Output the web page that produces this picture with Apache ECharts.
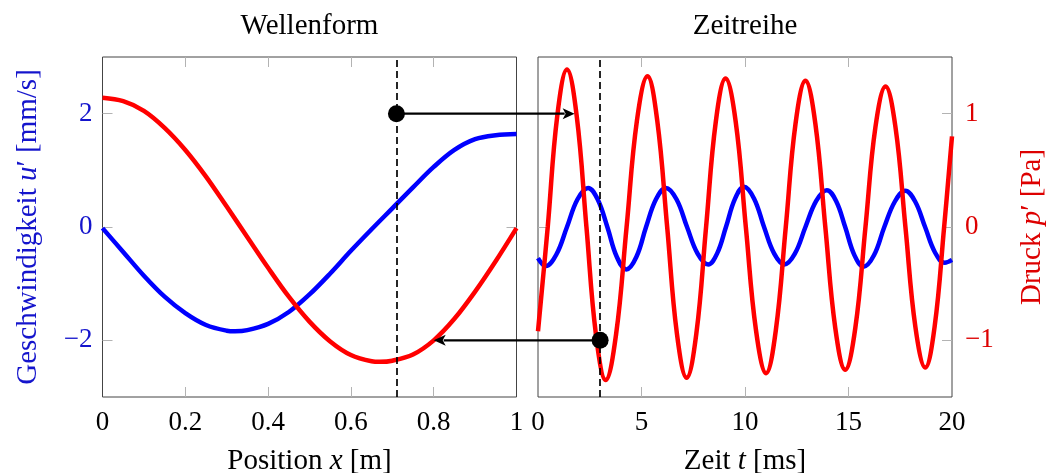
<!DOCTYPE html>
<html>
<head>
<meta charset="utf-8">
<title>Wellenform und Zeitreihe</title>
<script src="https://cdn.jsdelivr.net/npm/echarts@6/dist/echarts.min.js"></script>
<style>
  html, body { margin: 0; padding: 0; background: #fff; }
  #main { width: 1047px; height: 473px; }
</style>
</head>
<body>
<div id="main"></div>
<script>
// Wellenform (links) -- Position x [m]
const posX   = [0, 0.05, 0.1, 0.15, 0.2, 0.25, 0.3, 0.32, 0.35, 0.4, 0.45, 0.5, 0.55, 0.6, 0.65, 0.7, 0.75, 0.8, 0.85, 0.9, 0.95, 1];
const uWelle = [-0.02, -0.44, -0.86, -1.23, -1.52, -1.73, -1.83, -1.84, -1.82, -1.71, -1.50, -1.19, -0.82, -0.42, -0.04, 0.33, 0.70, 1.06, 1.36, 1.55, 1.62, 1.64];
const posXp  = [0, 0.05, 0.1, 0.15, 0.2, 0.25, 0.3, 0.35, 0.4, 0.45, 0.5, 0.55, 0.6, 0.65, 0.67, 0.7, 0.75, 0.8, 0.85, 0.9, 0.95, 1];
const pWelle = [2.28, 2.22, 2.05, 1.75, 1.36, 0.89, 0.36, -0.18, -0.72, -1.23, -1.67, -2.02, -2.26, -2.37, -2.38, -2.36, -2.25, -2.00, -1.62, -1.14, -0.60, -0.02];

// Zeitreihe (rechts) -- Zeit t [ms]
const tU    = [0, 0.37, 0.88, 1.40, 1.91, 2.42, 2.88, 3.35, 3.81, 4.27, 4.75, 5.22, 5.70, 6.18, 6.69, 7.20, 7.71, 8.22, 8.65, 9.08, 9.52, 9.95,
               10.44, 10.92, 11.41, 11.90, 12.41, 12.92, 13.44, 13.95, 14.40, 14.84, 15.29, 15.73, 16.23, 16.73, 17.24, 17.74, 18.22, 18.70, 19.18, 19.65, 20];
const uZeit = [-0.55, -0.69, -0.49, 0, 0.49, 0.69, 0.49, 0, -0.53, -0.75, -0.53, 0, 0.49, 0.69, 0.49, 0, -0.47, -0.66, -0.47, 0, 0.50, 0.71,
               0.50, 0, -0.47, -0.66, -0.47, 0, 0.46, 0.65, 0.46, 0, -0.50, -0.70, -0.50, 0, 0.45, 0.64, 0.45, 0, -0.45, -0.63, -0.58];
const tP    = [0, 0.47, 0.93, 1.40, 1.87, 2.34, 2.80, 3.27, 3.77, 4.28, 4.78, 5.29, 5.76, 6.24, 6.71, 7.18, 7.65, 8.12, 8.59, 9.06, 9.55, 10.04,
               10.53, 11.02, 11.49, 11.97, 12.44, 12.92, 13.40, 13.88, 14.36, 14.84, 15.33, 15.82, 16.30, 16.79, 17.27, 17.75, 18.23, 18.71, 19.16, 19.62, 20];
const pZeit = [-0.92, 0, 0.98, 1.39, 0.98, 0, -0.95, -1.35, -0.95, 0, 0.94, 1.33, 0.94, 0, -0.94, -1.33, -0.94, 0, 0.93, 1.31, 0.93, 0,
               -0.91, -1.29, -0.91, 0, 0.91, 1.29, 0.91, 0, -0.89, -1.26, -0.89, 0, 0.88, 1.24, 0.88, 0, -0.88, -1.24, -0.88, 0, 0.80];

// Achsenteilung
const xTicksPos  = [0, 0.2, 0.4, 0.6, 0.8, 1];
const xTicksZeit = [0, 5, 10, 15, 20];
const yTicksU    = [-2, 0, 2];
const yTicksP    = [-1, 0, 1];

// Markierungen (Datenkoordinaten)
const xMarke = 0.71;          // Position der Zeitreihe
const tMarke = 3;             // Zeitpunkt der Wellenform
const punktOben  = [0.71, 2]; // links, u-Achse
const pfeilOben  = [1.77, 1]; // rechts, p-Achse
const punktUnten = [3, -1];   // rechts, p-Achse
const pfeilUnten = [0.8, -2]; // links, u-Achse

const FONT = 'Liberation Serif';
const FS = 27;      // Zahlen an den Achsen
const FS_NAME = 29; // Titel und Achsenbeschriftung
const BLAU = '#0000ff', ROT = '#ff0000';
const TXT_BLAU = '#1414cc', TXT_ROT = '#dd0000';

function fmt(v) { return v < 0 ? '\u2212' + Math.abs(v) : String(v); }
function paare(xs, ys) { return xs.map((x, i) => [x, ys[i]]); }
function nameStyle(color) {
  return { color: color, fontFamily: FONT, fontSize: FS_NAME,
    rich: { i: { fontStyle: 'italic', fontFamily: FONT, fontSize: FS_NAME, color: color } } };
}
// Striche nach innen, ohne die an den Ecken (liegen auf dem Rahmen)
function ticks(vals) {
  return { show: true, inside: true, length: 10, customValues: vals.slice(1, -1),
    lineStyle: { color: '#b3b3b3', width: 1 } };
}
const keineLinie = { show: false, onZero: false };

const gridL = { left: 102.5, top: 57, width: 414, height: 340 };
const gridR = { left: 538, top: 57, width: 414, height: 340 };
const gridStil = { show: true, borderColor: '#444', borderWidth: 1, containLabel: false, outerBoundsMode: 'none' };

function kurve(xi, yi, xs, ys, farbe, glatt) {
  return { type: 'line', xAxisIndex: xi, yAxisIndex: yi, data: paare(xs, ys), smooth: glatt,
    showSymbol: false, lineStyle: { color: farbe, width: 4.5 }, itemStyle: { color: farbe } };
}
function marke(x, punkt) {
  return {
    markLine: { silent: true, symbol: ['none', 'none'], label: { show: false },
      lineStyle: { color: '#000', width: 1.7, type: [7, 4] }, data: [{ xAxis: x }] },
    markPoint: { symbol: 'circle', symbolSize: 17, itemStyle: { color: '#000' }, label: { show: false },
      data: [{ coord: punkt }] }
  };
}

const option = {
  animation: false,
  backgroundColor: '#fff',
  grid: [Object.assign({}, gridStil, gridL), Object.assign({}, gridStil, gridR)],
  xAxis: [
    { gridIndex: 0, type: 'value', min: 0, max: 1, position: 'bottom',
      axisLine: keineLinie, splitLine: { show: false }, axisTick: ticks(xTicksPos),
      axisLabel: { customValues: xTicksPos, formatter: fmt, color: '#000', fontFamily: FONT, fontSize: FS, margin: 12 },
      name: 'Position {i|x} [m]', nameLocation: 'middle', nameGap: 50, nameTextStyle: nameStyle('#000') },
    { gridIndex: 0, type: 'value', min: 0, max: 1, position: 'top',
      axisLine: keineLinie, splitLine: { show: false }, axisTick: ticks(xTicksPos),
      axisLabel: { show: false },
      name: 'Wellenform', nameLocation: 'middle', nameGap: 16, nameTextStyle: nameStyle('#000') },
    { gridIndex: 1, type: 'value', min: 0, max: 20, position: 'bottom',
      axisLine: keineLinie, splitLine: { show: false }, axisTick: ticks(xTicksZeit),
      axisLabel: { customValues: xTicksZeit, formatter: fmt, color: '#000', fontFamily: FONT, fontSize: FS, margin: 12 },
      name: 'Zeit {i|t} [ms]', nameLocation: 'middle', nameGap: 50, nameTextStyle: nameStyle('#000') },
    { gridIndex: 1, type: 'value', min: 0, max: 20, position: 'top',
      axisLine: keineLinie, splitLine: { show: false }, axisTick: ticks(xTicksZeit),
      axisLabel: { show: false },
      name: 'Zeitreihe', nameLocation: 'middle', nameGap: 16, nameTextStyle: nameStyle('#000') }
  ],
  yAxis: [
    { gridIndex: 0, type: 'value', min: -3, max: 3, position: 'left',
      axisLine: keineLinie, splitLine: { show: false }, axisTick: ticks([-3].concat(yTicksU, [3])),
      axisLabel: { customValues: yTicksU, formatter: fmt, color: TXT_BLAU, fontFamily: FONT, fontSize: FS, margin: 10 },
      name: 'Geschwindigkeit {i|u}\u2032 [mm/s]', nameLocation: 'middle', nameGap: 60, nameTextStyle: nameStyle(TXT_BLAU) },
    { gridIndex: 0, type: 'value', min: -3, max: 3, position: 'right',
      axisLine: keineLinie, splitLine: { show: false }, axisTick: ticks([-3].concat(yTicksU, [3])),
      axisLabel: { show: false } },
    { gridIndex: 1, type: 'value', min: -1.5, max: 1.5, position: 'right',
      axisLine: keineLinie, splitLine: { show: false }, axisTick: ticks([-1.5].concat(yTicksP, [1.5])),
      axisLabel: { customValues: yTicksP, formatter: fmt, color: TXT_ROT, fontFamily: FONT, fontSize: FS, margin: 13 },
      name: 'Druck {i|p}\u2032 [Pa]', nameLocation: 'middle', nameGap: 66, nameTextStyle: nameStyle(TXT_ROT) },
    { gridIndex: 1, type: 'value', min: -3, max: 3, position: 'left',
      axisLine: keineLinie, splitLine: { show: false }, axisTick: ticks([-3].concat(yTicksU, [3])),
      axisLabel: { show: false } }
  ],
  series: [
    Object.assign(kurve(0, 0, posX, uWelle, BLAU, 0.35), marke(xMarke, punktOben)),
    kurve(0, 0, posXp, pWelle, ROT, 0.35),
    kurve(2, 3, tU, uZeit, BLAU, 0.4),
    Object.assign(kurve(2, 2, tP, pZeit, ROT, 0.4), marke(tMarke, punktUnten))
  ]
};

const chart = echarts.init(document.getElementById('main'), null, { renderer: 'canvas' });
chart.setOption(option);

// Pfeile zwischen den beiden Diagrammen
function pfeil(von, bis) {
  const dx = bis[0] - von[0], dy = bis[1] - von[1];
  const len = Math.hypot(dx, dy), ux = dx / len, uy = dy / len;
  const L = 12, W = 5.5;
  const bx = bis[0] - ux * L, by = bis[1] - uy * L;
  return [
    { type: 'line', z: 100, shape: { x1: von[0], y1: von[1], x2: bx + ux * 2, y2: by + uy * 2 },
      style: { stroke: '#000', lineWidth: 2.2 } },
    { type: 'polygon', z: 100,
      shape: { points: [bis, [bx - uy * W, by + ux * W], [bx + ux * 3, by + uy * 3], [bx + uy * W, by - ux * W]] },
      style: { fill: '#000' } }
  ];
}
const a1 = chart.convertToPixel({ seriesIndex: 0 }, punktOben);
const a2 = chart.convertToPixel({ seriesIndex: 3 }, pfeilOben);
const b1 = chart.convertToPixel({ seriesIndex: 3 }, punktUnten);
const b2 = chart.convertToPixel({ seriesIndex: 0 }, pfeilUnten);
chart.setOption({ graphic: pfeil(a1, a2).concat(pfeil(b1, b2)) });
</script>
</body>
</html>
